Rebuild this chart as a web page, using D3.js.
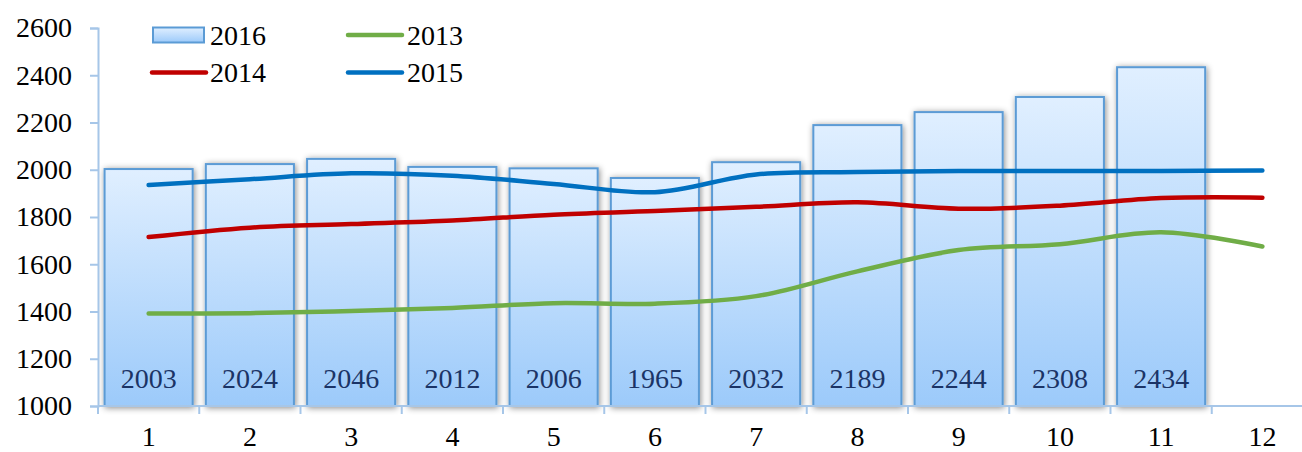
<!DOCTYPE html>
<html>
<head>
<meta charset="utf-8">
<script src="https://cdn.jsdelivr.net/npm/d3@7"></script>
<style>
  html, body { margin: 0; padding: 0; background: #fff; }
  svg { display: block; }
  text { font-family: "Liberation Serif", "DejaVu Serif", serif; }
</style>
</head>
<body>
<svg id="chart" width="1302" height="452"></svg>
<script>
const categories = ["1","2","3","4","5","6","7","8","9","10","11","12"];
const bars2016 = [2003, 2024, 2046, 2012, 2006, 1965, 2032, 2189, 2244, 2308, 2434, null];
const line2013 = [1392, 1393, 1402, 1415, 1435, 1433, 1465, 1570, 1660, 1685, 1735, 1675];
const line2014 = [1715, 1755, 1770, 1785, 1810, 1825, 1843, 1862, 1835, 1848, 1880, 1882];
const line2015 = [1935, 1960, 1985, 1975, 1940, 1905, 1980, 1990, 1995, 1995, 1995, 1997];
const yTicks = [1000, 1200, 1400, 1600, 1800, 2000, 2200, 2400, 2600];

const svg = d3.select("#chart");
const plotLeft = 98, plotRight = 1313, plotTop = 28, plotBottom = 406;

const x = d3.scaleBand().domain(categories).range([plotLeft, plotRight]).paddingInner(0.13).paddingOuter(0.065);
const xc = d3.scaleBand().domain(categories).range([plotLeft, plotRight]).padding(0);
const y = d3.scaleLinear().domain([1000, 2600]).range([plotBottom, plotTop]);

const defs = svg.append("defs");
const grad = defs.append("linearGradient").attr("id", "barGrad")
  .attr("x1", 0).attr("y1", 0).attr("x2", 0).attr("y2", 1);
grad.append("stop").attr("offset", "0%").attr("stop-color", "#e0efff");
grad.append("stop").attr("offset", "100%").attr("stop-color", "#9ccafa");
const filt = defs.append("filter").attr("id", "shadow")
  .attr("x", "-20%").attr("y", "-20%").attr("width", "140%").attr("height", "140%");
filt.append("feDropShadow").attr("dx", 1).attr("dy", 1).attr("stdDeviation", 3)
  .attr("flood-color", "#000").attr("flood-opacity", 0.45);

const axisColor = "#a6c6e8";

// Bars
const barData = categories.map((c, i) => ({ c, v: bars2016[i] })).filter(d => d.v != null);
svg.append("g").selectAll("rect").data(barData).join("rect")
  .attr("x", d => x(d.c))
  .attr("y", d => y(d.v))
  .attr("width", x.bandwidth())
  .attr("height", d => y(1000) - y(d.v))
  .attr("fill", "url(#barGrad)")
  .attr("stroke", "#5b9bd5")
  .attr("stroke-width", 2)
  .attr("filter", "url(#shadow)");

// Bar labels
svg.append("g").selectAll("text").data(barData).join("text")
  .attr("x", d => x(d.c) + x.bandwidth() / 2)
  .attr("y", 378)
  .attr("dy", "0.35em")
  .attr("text-anchor", "middle")
  .attr("font-size", 28)
  .attr("fill", "#1b3466")
  .text(d => d.v);

// Y axis
const yAxis = svg.append("g").attr("transform", `translate(${plotLeft},0)`)
  .call(d3.axisLeft(y).tickValues(yTicks).tickSize(8).tickPadding(18).tickFormat(d3.format("d")));
yAxis.select(".domain").attr("stroke", axisColor).attr("stroke-width", 2);
yAxis.selectAll(".tick line").attr("stroke", axisColor).attr("stroke-width", 2);
yAxis.selectAll(".tick text").attr("font-size", 28).attr("fill", "#000")
  .attr("font-family", "Liberation Serif, serif");

// X axis with ticks at band boundaries
const xAxisG = svg.append("g").attr("transform", `translate(0,${plotBottom})`);
xAxisG.append("line").attr("x1", plotLeft).attr("x2", plotRight).attr("stroke", axisColor).attr("stroke-width", 2);
const boundaries = categories.map(c => xc(c)).concat([plotRight]);
xAxisG.selectAll("line.tk").data(boundaries).join("line").attr("class", "tk")
  .attr("x1", d => d).attr("x2", d => d).attr("y1", 0).attr("y2", 8)
  .attr("stroke", axisColor).attr("stroke-width", 2);
xAxisG.selectAll("text").data(categories).join("text")
  .attr("x", d => xc(d) + xc.bandwidth() / 2)
  .attr("y", 30)
  .attr("dy", "0.35em")
  .attr("text-anchor", "middle")
  .attr("font-size", 28)
  .attr("fill", "#000")
  .text(d => d);

// Lines
const series = [
  { name: "2013", vals: line2013, color: "#70ad47" },
  { name: "2014", vals: line2014, color: "#c00000" },
  { name: "2015", vals: line2015, color: "#0070c0" }
];
const lineGen = d3.line()
  .x((d, i) => xc(categories[i]) + xc.bandwidth() / 2)
  .y(d => y(d))
  .curve(d3.curveCatmullRom.alpha(0.5));
svg.append("g").selectAll("path").data(series).join("path")
  .attr("d", d => lineGen(d.vals))
  .attr("fill", "none")
  .attr("stroke", d => d.color)
  .attr("stroke-width", 4.5)
  .attr("stroke-linecap", "round")
  .attr("stroke-linejoin", "round");

// Legend
const lg = svg.append("g");
lg.append("rect").attr("x", 153).attr("y", 27.5).attr("width", 51).attr("height", 15)
  .attr("fill", "url(#barGrad)").attr("stroke", "#5b9bd5").attr("stroke-width", 2);
const legendLines = [
  { name: "2013", color: "#70ad47", x: 348, y: 35 },
  { name: "2014", color: "#c00000", x: 152, y: 72.5 },
  { name: "2015", color: "#0070c0", x: 348, y: 72.5 }
];
lg.selectAll("line").data(legendLines).join("line")
  .attr("x1", d => d.x).attr("x2", d => d.x + 54).attr("y1", d => d.y).attr("y2", d => d.y)
  .attr("stroke", d => d.color).attr("stroke-width", 4.5).attr("stroke-linecap", "round");
const legendTexts = [
  { name: "2016", x: 210, y: 35 },
  { name: "2013", x: 407, y: 35 },
  { name: "2014", x: 210, y: 72.5 },
  { name: "2015", x: 407, y: 72.5 }
];
lg.selectAll("text").data(legendTexts).join("text")
  .attr("x", d => d.x).attr("y", d => d.y).attr("dy", "0.35em")
  .attr("font-size", 28).attr("fill", "#000")
  .text(d => d.name);
</script>
</body>
</html>
